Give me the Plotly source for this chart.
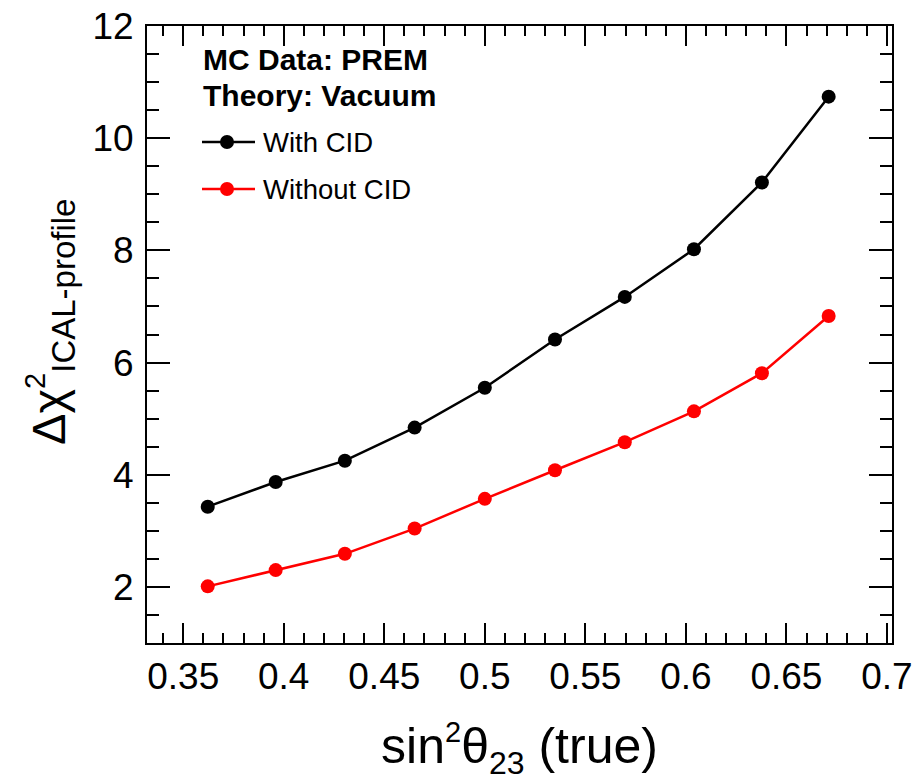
import plotly.graph_objects as go

# ---- data ----
sin2_theta23 = [0.3622, 0.3960, 0.4304, 0.4651, 0.5000, 0.5349, 0.5696, 0.6040, 0.6378, 0.6710]
with_cid = [3.43, 3.87, 4.25, 4.84, 5.55, 6.41, 7.17, 8.02, 9.21, 10.74]
without_cid = [2.01, 2.30, 2.59, 3.04, 3.57, 4.08, 4.58, 5.13, 5.81, 6.83]

x_tickvals = [0.35, 0.4, 0.45, 0.5, 0.55, 0.6, 0.65, 0.7]
x_ticktext = ["0.35", "0.4", "0.45", "0.5", "0.55", "0.6", "0.65", "0.7"]
y_tickvals = [2, 4, 6, 8, 10, 12]
y_ticktext = ["2", "4", "6", "8", "10", "12"]

series_names = ["With CID", "Without CID"]
series_colors = ["#000000", "#ff0000"]
header_lines = ["MC Data: PREM", "Theory: Vacuum"]
y_title = "Δχ<sup><span style='font-size:29px'>2</span></sup><sub><span style='font-size:33px'>ICAL-profile</span></sub>"
x_title = "sin<sup><span style='font-size:29px'>2</span></sup>θ<sub><span style='font-size:32px'>23</span></sub> (true)"

FONT = "Liberation Sans, Arial, Helvetica, sans-serif"

fig = go.Figure()
for name, vals, col in zip(series_names, [with_cid, without_cid], series_colors):
    fig.add_trace(go.Scatter(
        x=sin2_theta23, y=vals, mode="lines+markers", name=name,
        line=dict(color=col, width=2.5),
        marker=dict(color=col, size=14, symbol="circle"),
        showlegend=False,
    ))

axis_common = dict(
    showgrid=False, zeroline=False, showline=True, linecolor="black", linewidth=2,
    mirror="ticks", ticks="inside", tickcolor="black", tickwidth=1.5, automargin=False,
    tickfont=dict(family=FONT, size=37, color="black"),
)

fig.update_xaxes(
    range=[0.332, 0.7025], tickvals=x_tickvals, ticktext=x_ticktext, ticklen=20,
    minor=dict(dtick=0.01, tick0=0.35, ticks="inside", ticklen=10, tickcolor="black", tickwidth=1.5),
    title=dict(text=x_title, font=dict(family=FONT, size=50, color="black"), standoff=34),
    **axis_common,
)
fig.update_yaxes(
    range=[1, 12], tickvals=y_tickvals, ticktext=y_ticktext, ticklen=23, ticklabelstandoff=4,
    minor=dict(dtick=0.5, tick0=0, ticks="inside", ticklen=12, tickcolor="black", tickwidth=1.5),
    **axis_common,
)

# ---- manual legend / header / y title ----
W, H, L, B = 745, 617, 147, 138
def px(xp):
    return (xp - L) / W
def py(yp):
    return (781 - B - yp) / H

annotations = [dict(
    text=y_title, textangle=-90, x=px(50), y=py(322), xref="paper", yref="paper",
    xanchor="center", yanchor="middle", showarrow=False,
    font=dict(family=FONT, size=47, color="black"),
)]
for txt, yc in zip(header_lines, [59, 96]):
    annotations.append(dict(
        text="<b>" + txt + "</b>", x=px(201), y=py(yc), xref="paper", yref="paper",
        xanchor="left", yanchor="middle", showarrow=False,
        font=dict(family=FONT, size=30, color="black"),
    ))
shapes = []
for name, col, yc in zip(series_names, series_colors, [142, 189]):
    annotations.append(dict(
        text=name, x=px(261), y=py(yc), xref="paper", yref="paper",
        xanchor="left", yanchor="middle", showarrow=False,
        font=dict(family=FONT, size=27.5, color="black"),
    ))
    shapes.append(dict(type="line", xref="paper", yref="paper",
                       x0=px(202), x1=px(255), y0=py(yc), y1=py(yc),
                       line=dict(color=col, width=2.5)))
    shapes.append(dict(type="circle", xref="paper", yref="paper",
                       xsizemode="pixel", ysizemode="pixel",
                       xanchor=px(227), yanchor=py(yc),
                       x0=-7, x1=7, y0=-7, y1=7,
                       fillcolor=col, line=dict(color=col, width=0)))

fig.update_layout(
    width=918, height=781,
    margin=dict(l=L, r=918 - L - W, t=781 - B - H, b=B, autoexpand=False),
    paper_bgcolor="white", plot_bgcolor="white",
    annotations=annotations, shapes=shapes,
    showlegend=False,
)

fig.write_html("out.html", config={"displayModeBar": False},
               post_script="document.body.style.margin='0';document.body.style.overflow='hidden';")
